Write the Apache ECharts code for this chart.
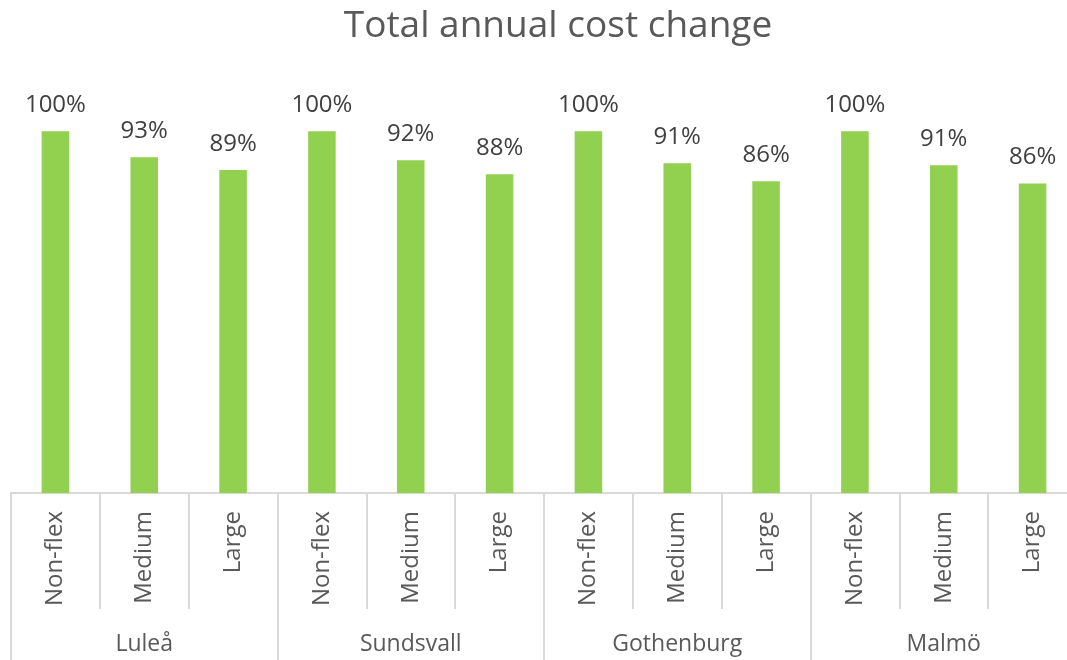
<!DOCTYPE html>
<html>
<head>
<meta charset="utf-8">
<script src="https://cdn.jsdelivr.net/npm/echarts@6/dist/echarts.min.js"></script>
<style>
html,body{margin:0;padding:0;background:#fff;overflow:hidden;width:1067px;height:660px;}
#chart{width:1077px;height:660px;}
</style>
</head>
<body>
<div id="chart"></div>
<script>
var groups = ['Luleå', 'Sundsvall', 'Gothenburg', 'Malmö'];
var subCategories = ['Non-flex', 'Medium', 'Large', 'Non-flex', 'Medium', 'Large', 'Non-flex', 'Medium', 'Large', 'Non-flex', 'Medium', 'Large'];
var costChange = [1.00, 0.928, 0.893, 1.00, 0.92, 0.881, 1.00, 0.912, 0.862, 1.00, 0.906, 0.856];

var FONT = '"Open Sans", "Noto Sans", sans-serif';
var chart = echarts.init(document.getElementById('chart'), null, {renderer: 'canvas'});
chart.setOption({
  animation: false,
  title: {
    text: 'Total annual cost change',
    left: 553, textAlign: 'center', top: 3,
    textStyle: {fontFamily: FONT, fontSize: 37, fontWeight: 'normal', color: '#595959'}
  },
  grid: {left: 11, right: 0, top: 59, bottom: 167, containLabel: false},
  xAxis: [{
    type: 'category',
    data: subCategories,
    position: 'bottom',
    axisLine: {show: true, lineStyle: {color: '#D9D9D9', width: 2}},
    axisTick: {show: true, length: 116, lineStyle: {color: '#D9D9D9', width: 2}},
    axisLabel: {rotate: 90, margin: 18, fontFamily: FONT, fontSize: 24, color: '#595959', interval: 0}
  }, {
    type: 'category',
    data: groups,
    position: 'bottom',
    axisLine: {show: false},
    axisTick: {show: true, length: 170, lineStyle: {color: '#D9D9D9', width: 2}},
    axisLabel: {margin: 140, fontFamily: FONT, fontSize: 23, color: '#595959', interval: 0}
  }],
  yAxis: {type: 'value', min: 0, max: 1.2, show: false, splitLine: {show: false}},
  series: [{
    type: 'bar',
    xAxisIndex: 0,
    data: costChange,
    barWidth: '31%',
    itemStyle: {color: '#92D050'},
    label: {
      show: true, position: 'top', distance: 14,
      fontFamily: FONT, fontSize: 24, color: '#404040',
      formatter: function (p) { return Math.round(p.value * 100) + '%'; }
    }
  }]
});
</script>
</body>
</html>
